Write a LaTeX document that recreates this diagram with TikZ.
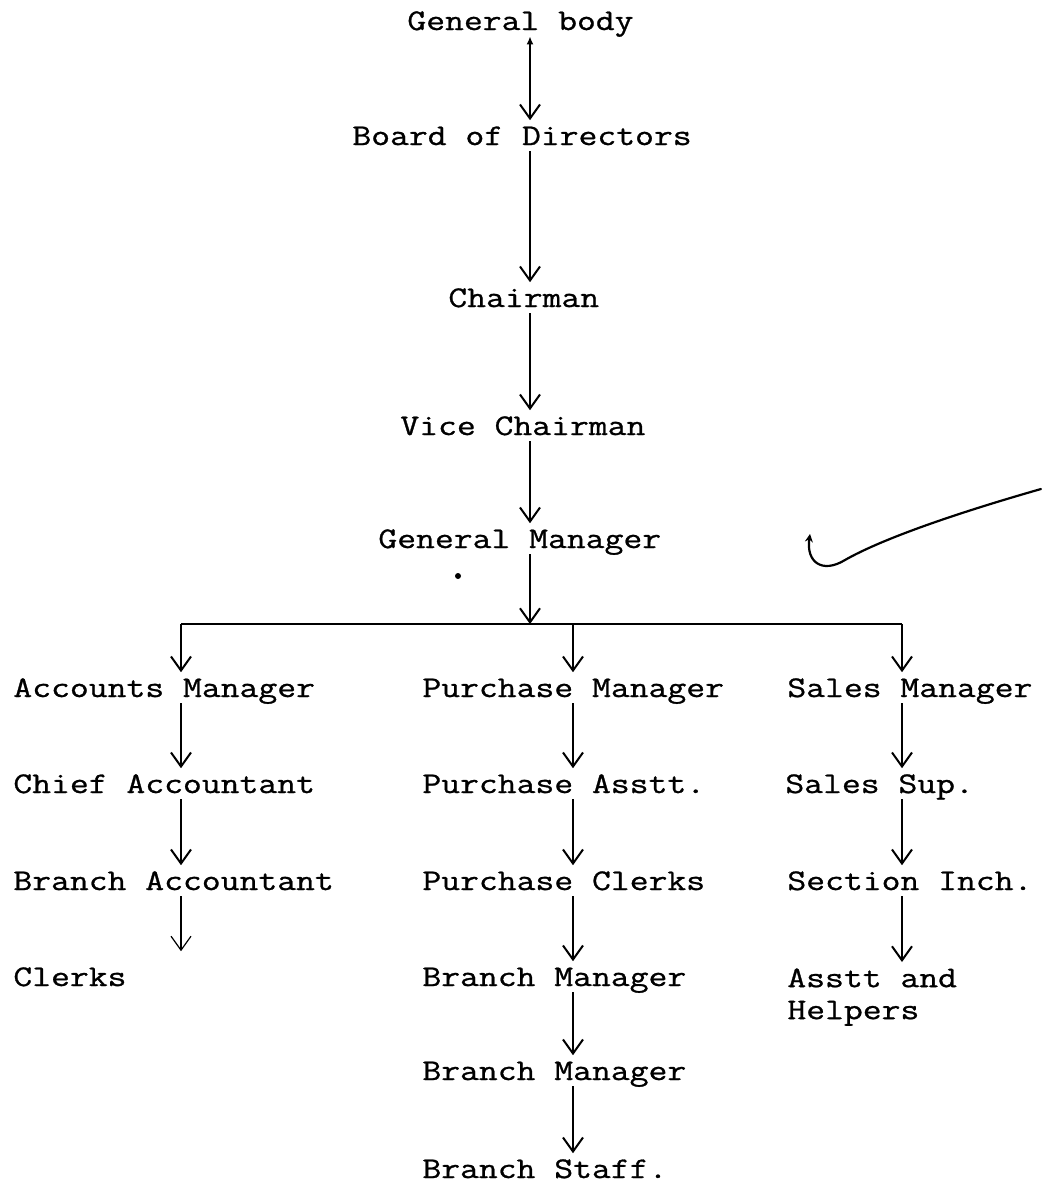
\documentclass[tikz,border=0pt]{standalone}
\usepackage{fontspec}
\usetikzlibrary{arrows.meta}
\newfontfamily\typewriter{Latin Modern Mono}[FakeStretch=1.22,FakeBold=0.9]
\newlength{\du}
\setlength{\du}{0.5pt}

\begin{document}
\begin{tikzpicture}[x=\du,y=-\du,
  post/.style={anchor=base west,inner xsep=0pt,inner ysep=3pt,text height=9.2pt,text depth=0pt,
    font=\typewriter\fontsize{15}{16}\selectfont},
  link/.style={line width=1pt,-{Straight Barb[length=7pt,width=10pt]}},
  bar/.style={line width=1pt}]
\useasboundingbox (0,0) rectangle (1041,1184);

% top of the chart
\node[post] (genbody) at (407,30) {General body};
\node[post] (board) at (352,145) {Board of Directors};
\node[post] (chair) at (448,307) {Chairman};
\node[post] (vice) at (400,435) {Vice Chairman};
\node[post] (genmgr) at (378,548) {General Manager};

% accounts
\node[post] (accmgr) at (13,697) {Accounts Manager};
\node[post] (chiefacc) at (13,793) {Chief Accountant};
\node[post] (branchacc) at (13,890) {Branch Accountant};
\node[post] (clerks) at (13,986) {Clerks};

% purchase
\node[post] (purmgr) at (422,697) {Purchase Manager};
\node[post] (purasst) at (422,793) {Purchase Asstt.};
\node[post] (purclerks) at (422,890) {Purchase Clerks};
\node[post] (brmgra) at (422,986) {Branch Manager};
\node[post] (brmgrb) at (422,1080) {Branch Manager};
\node[post] (brstaff) at (422,1178) {Branch Staff.};

% sales
\node[post] (salesmgr) at (787,697) {Sales Manager};
\node[post] (salessup) at (785,793) {Sales Sup.};
\node[post] (section) at (787,890) {Section Inch.};
\node[post,align=left,text height=,text depth=,anchor=north west] (helpers) at (787,962) {Asstt and\\Helpers};

\coordinate (ct) at (530,624);
\coordinate (ca) at (181,624);
\coordinate (cb) at (573,624);
\coordinate (cc) at (902,624);

\draw[line width=1pt,{Latex[length=4pt,width=3.5pt]}-{Straight Barb[length=7pt,width=10pt]}]
  (genbody.south -| ct) -- (board.north -| ct);
\draw[link] (board.south -| ct) -- (chair.north -| ct);
\draw[link] (chair.south -| ct) -- (vice.north -| ct);
\draw[link] (vice.south -| ct) -- (genmgr.north -| ct);
\draw[link] (genmgr.south -| ct) -- (ct);
\draw[bar] (ca) -- (cc);

\draw[link] (ca) -- (accmgr.north -| ca);
\draw[link] (accmgr.south -| ca) -- (chiefacc.north -| ca);
\draw[link] (chiefacc.south -| ca) -- (branchacc.north -| ca);
\draw[link,line width=0.6pt,shorten >=5pt] (branchacc.south -| ca) -- (clerks.north -| ca);

\draw[link] (cb) -- (purmgr.north -| cb);
\draw[link] (purmgr.south -| cb) -- (purasst.north -| cb);
\draw[link] (purasst.south -| cb) -- (purclerks.north -| cb);
\draw[link] (purclerks.south -| cb) -- (brmgra.north -| cb);
\draw[link] (brmgra.south -| cb) -- (brmgrb.north -| cb);
\draw[link] (brmgrb.south -| cb) -- (brstaff.north -| cb);

\draw[link] (cc) -- (salesmgr.north -| cc);
\draw[link] (salesmgr.south -| cc) -- (salessup.north -| cc);
\draw[link] (salessup.south -| cc) -- (section.north -| cc);
\draw[link] (section.south -| cc) -- (helpers.north -| cc);

% stray marks
\fill (458,576) circle[radius=1.5pt];
\draw[line width=1.1pt,line cap=round,-{Stealth[length=4pt,width=4pt]}]
  (1041,489) .. controls (950,515) and (880,540) .. (845,560)
  .. controls (822,574) and (806,562) .. (810,534);
\end{tikzpicture}
\end{document}
